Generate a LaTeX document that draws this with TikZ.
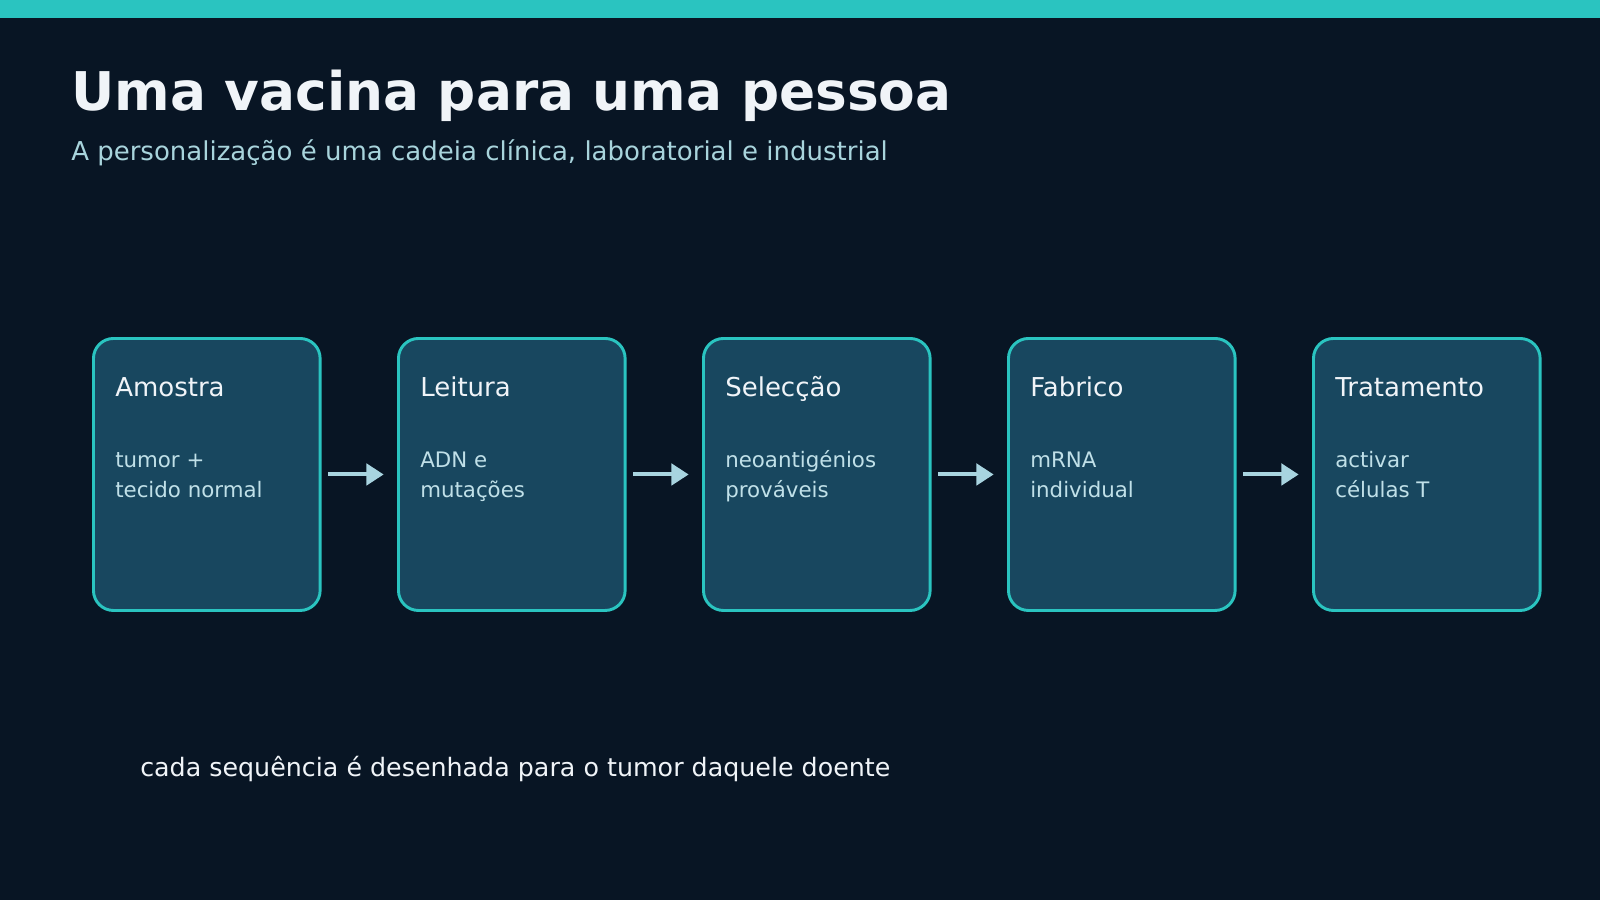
\documentclass[tikz,border=0pt]{standalone}
\usepackage{fontspec}
\setmainfont{DejaVu Sans}
\usetikzlibrary{arrows.meta,positioning}
\definecolor{bgdark}{HTML}{081524}
\definecolor{teal}{HTML}{2AC4C0}
\definecolor{boxfill}{HTML}{18475F}
\definecolor{titletxt}{HTML}{F0F4F8}
\definecolor{subtxt}{HTML}{A8D4DC}
\definecolor{desctxt}{HTML}{C0E0E8}
\definecolor{arrowc}{HTML}{A8D4E0}
\begin{document}
\begin{tikzpicture}[x=0.75pt,y=-0.75pt,
  step box/.style={draw=teal,line width=2.2pt,fill=boxfill,rounded corners=15pt,
    minimum width=170pt,minimum height=204pt,inner sep=0pt,anchor=north west},
  step title/.style={anchor=base west,text=titletxt,font=\fontsize{19.5}{23}\selectfont,inner sep=0pt},
  step desc/.style={anchor=base west,text=desctxt,align=left,font=\fontsize{16}{22.5}\selectfont,inner sep=0pt},
  step arrow/.style={draw=arrowc,line width=3pt,-{Triangle[length=13pt,width=16pt]},shorten <=5pt,shorten >=10pt}]
  \fill[bgdark] (0,0) rectangle (1600,900);
  \useasboundingbox (0,0) rectangle (1600,900);
  \fill[teal] (0,0) rectangle (1600,18.4);
  \node[anchor=base west,inner sep=0pt,text=titletxt,font=\bfseries\fontsize{40}{48}\selectfont] (title) at (71,110) {Uma vacina para uma pessoa};
  \node[anchor=base west,inner sep=0pt,text=subtxt,font=\fontsize{19.5}{23}\selectfont] (subtitle) at (71,160) {A personalização é uma cadeia clínica, laboratorial e industrial};
  \foreach \i/\t/\d in {1/Amostra/{tumor +\\tecido normal},2/Leitura/{ADN e\\mutações},3/Selecção/{neoantigénios\\prováveis},4/Fabrico/{mRNA\\individual},5/Tratamento/{activar\\células T}}{
    \node[step box] (b\i) at ({92+305*(\i-1)},337) {};
    \node[step title] (t\i) at ({115+305*(\i-1)},396) {\t};
    \node[step desc] (d\i) at ({115+305*(\i-1)},497) {\d};
  }
  \foreach \i/\j in {1/2,2/3,3/4,4/5}
    \draw[step arrow] (b\i.east) -- (b\j.west);
  \node[anchor=base west,inner sep=0pt,text=titletxt,font=\fontsize{19}{23}\selectfont] (footer) at (140,776) {cada sequência é desenhada para o tumor daquele doente};
\end{tikzpicture}
\end{document}
